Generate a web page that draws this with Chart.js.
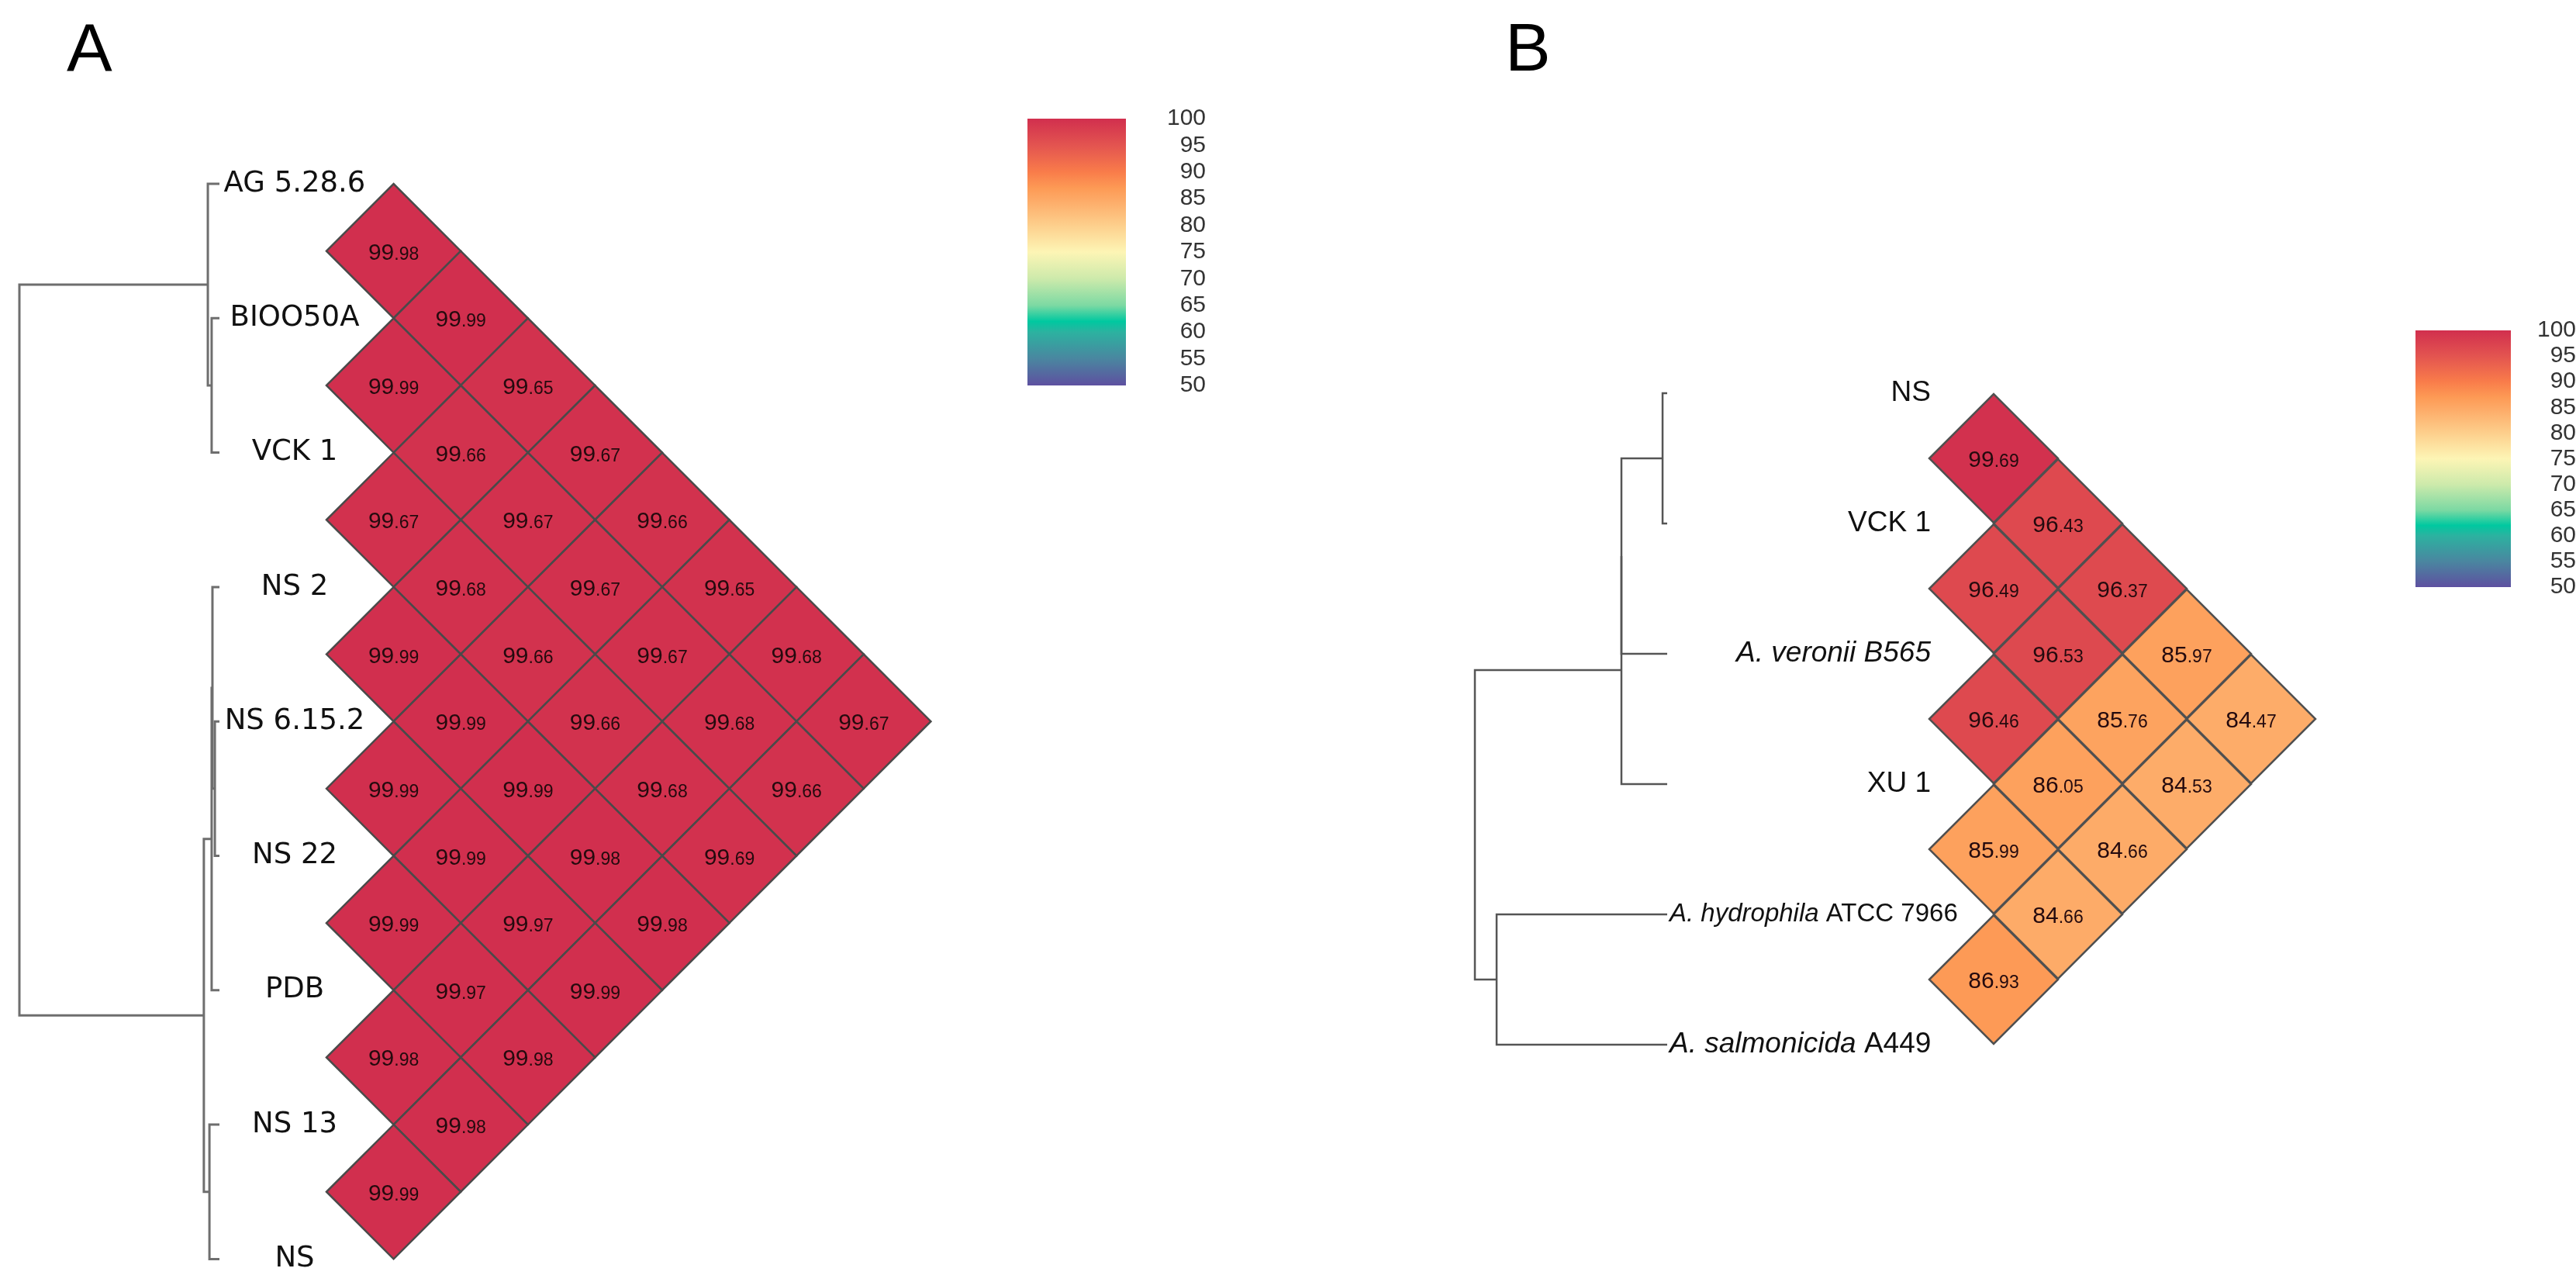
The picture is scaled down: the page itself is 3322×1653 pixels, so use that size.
<!DOCTYPE html>
<html>
<head>
<meta charset="utf-8">
<script src="https://cdn.jsdelivr.net/npm/chart.js@4.4.1/dist/chart.umd.min.js"></script>
<style>
  html, body { margin: 0; padding: 0; background: #fff; }
  body { width: 3322px; height: 1653px; position: relative; overflow: hidden; }
  canvas { position: absolute; }
  .tag { position: absolute; font-family: "Liberation Sans", Arial, sans-serif; font-size: 88px; line-height: 1; color: #000; }
</style>
</head>
<body>
<div class="tag" style="left:86px;top:18px">A</div>
<div class="tag" style="left:1941px;top:17px">B</div>
<canvas id="heatA" width="1240" height="1653" style="left:0;top:0"></canvas>
<canvas id="barA" width="230" height="404" style="left:1325px;top:123px"></canvas>
<canvas id="heatB" width="1200" height="1653" style="left:1850px;top:0"></canvas>
<canvas id="barB" width="207" height="395" style="left:3115px;top:394px"></canvas>
<script>
// ---- panel A: taxa, pairwise ANI (row i holds pairs i/i+1, i/i+2 ...), tree merges [a, b, height]
var taxaA = ['AG 5.28.6', 'BIOO50A', 'VCK 1', 'NS 2', 'NS 6.15.2', 'NS 22', 'PDB', 'NS 13', 'NS'];
var aniA = [
  [99.98, 99.99, 99.65, 99.67, 99.66, 99.65, 99.68, 99.67],
  [99.99, 99.66, 99.67, 99.67, 99.67, 99.68, 99.66],
  [99.67, 99.68, 99.66, 99.66, 99.68, 99.69],
  [99.99, 99.99, 99.99, 99.98, 99.98],
  [99.99, 99.99, 99.97, 99.99],
  [99.99, 99.97, 99.98],
  [99.98, 99.98],
  [99.99]
];
var mergeA = [
  [1, 2, 0.039],
  [0, 9, 0.058],
  [4, 5, 0.023],
  [3, 11, 0.035],
  [12, 6, 0.039],
  [7, 8, 0.05],
  [13, 14, 0.078],
  [10, 15, 1]
];

// ---- panel B
var taxaB = ['NS', 'VCK 1', 'A. veronii B565', 'XU 1', 'A. hydrophila ATCC 7966', 'A. salmonicida A449'];
var italicB = ['', '', 'A. veronii B565', '', 'A. hydrophila', 'A. salmonicida'];
var aniB = [
  [99.69, 96.43, 96.37, 85.97, 84.47],
  [96.49, 96.53, 85.76, 84.53],
  [96.46, 86.05, 84.66],
  [85.99, 84.66],
  [86.93]
];
var mergeB = [
  [0, 1, 0.024],
  [6, 2, 0.238],
  [7, 3, 0.238],
  [4, 5, 0.887],
  [8, 9, 1]
];

// ---- colour scale
var colourTicks = [50, 55, 60, 65, 70, 75, 80, 85, 90, 95, 100];
var stopValues = [50, 55, 60, 62, 65, 70, 75, 80, 85, 87, 90, 95, 100];
var stopColours = ['#5e50a0', '#4a86a0', '#2cb2a0', '#00c8a0', '#7cd9a3', '#cdeaab', '#fdf5b5',
                   '#fdcf8c', '#fda865', '#fd9a55', '#f97c4a', '#e35450', '#d12f4e'];

function hexRgb(h) {
  return [parseInt(h.substr(1, 2), 16), parseInt(h.substr(3, 2), 16), parseInt(h.substr(5, 2), 16)];
}

function colourFor(v) {
  for (var i = 1; i < stopValues.length; i++) {
    if (v <= stopValues[i]) {
      var t = (v - stopValues[i - 1]) / (stopValues[i] - stopValues[i - 1]);
      var a = hexRgb(stopColours[i - 1]), b = hexRgb(stopColours[i]);
      return 'rgb(' + [0, 1, 2].map(function (k) { return Math.round(a[k] + (b[k] - a[k]) * t); }).join(',') + ')';
    }
  }
  return stopColours[stopColours.length - 1];
}

function cellsOf(ani) {
  var out = [];
  ani.forEach(function (row, i) {
    row.forEach(function (v, k) {
      var j = i + k + 1;
      out.push({ x: j - i, y: (i + j) / 2, v: v });
    });
  });
  return out;
}

// elbow paths of a dendrogram, leaves at y = index, height 0
function treeSegments(merges, n) {
  var pos = [], ht = [], segs = [];
  for (var i = 0; i < n; i++) { pos.push(i); ht.push(0); }
  merges.forEach(function (m) {
    var a = m[0], b = m[1], h = m[2];
    segs.push([{ x: ht[a], y: pos[a] }, { x: h, y: pos[a] }, { x: h, y: pos[b] }, { x: ht[b], y: pos[b] }]);
    pos.push((pos[a] + pos[b]) / 2);
    ht.push(h);
  });
  return segs;
}

// min/max so that value v0 lands on pixel p0 and v1 on p1
function axisFit(p0, v0, p1, v1, size, vertical) {
  var upp = (v1 - v0) / (p1 - p0);
  var a = v0 - p0 * upp, b = a + size * upp;
  return { min: Math.min(a, b), max: Math.max(a, b), reverse: vertical ? upp > 0 : upp < 0 };
}

function cellRadius(c) {
  var s = c.chart.scales.x;
  return s ? Math.abs(s.getPixelForValue(1) - s.getPixelForValue(0)) : 0;
}

var cellText = {
  id: 'cellText',
  afterDatasetsDraw: function (chart) {
    var ctx = chart.ctx, meta = chart.getDatasetMeta(0), data = chart.data.datasets[0].data;
    var big = '30px "Liberation Sans", Arial, sans-serif', small = '23px "Liberation Sans", Arial, sans-serif';
    ctx.save();
    ctx.fillStyle = '#240a0e';
    ctx.textBaseline = 'alphabetic';
    ctx.textAlign = 'left';
    meta.data.forEach(function (pt, k) {
      var parts = data[k].v.toFixed(2).split('.');
      var a = parts[0], b = '.' + parts[1];
      ctx.font = big; var wa = ctx.measureText(a).width;
      ctx.font = small; var wb = ctx.measureText(b).width;
      var x0 = pt.x - (wa + wb) / 2, base = pt.y + 11;
      ctx.font = big; ctx.fillText(a, x0, base);
      ctx.font = small; ctx.fillText(b, x0 + wa, base);
    });
    ctx.restore();
  }
};

var taxaText = {
  id: 'taxa',
  afterDatasetsDraw: function (chart, args, o) {
    var ctx = chart.ctx, y = chart.scales.y, xd = chart.scales.xd;
    ctx.save();
    ctx.fillStyle = '#111';
    ctx.textBaseline = 'middle';
    ctx.textAlign = 'left';
    o.names.forEach(function (name, i) {
      var size = o.sizes ? o.sizes[i] : o.size;
      var it = o.italic ? o.italic[i] : '';
      var rest = name.substr(it.length);
      var fi = 'italic ' + size + 'px ' + o.family, fn = size + 'px ' + o.family;
      ctx.font = fi; var wi = it ? ctx.measureText(it).width : 0;
      ctx.font = fn; var wr = ctx.measureText(rest).width;
      var w = wi + wr, x;
      if (o.align === 'center') x = o.at - w / 2;
      else x = Math.max(o.at - w, xd.getPixelForValue(0) + 3);
      var py = y.getPixelForValue(i);
      if (it) { ctx.font = fi; ctx.fillText(it, x, py); }
      ctx.font = fn; ctx.fillText(rest, x + wi, py);
    });
    ctx.restore();
  }
};

function heatPanel(id, g, taxa, ani, merges, labels) {
  var canvas = document.getElementById(id);
  var W = canvas.width, H = canvas.height;
  var datasets = [{
    data: cellsOf(ani),
    xAxisID: 'x', yAxisID: 'y',
    pointStyle: 'rectRot',
    pointRadius: cellRadius, pointHoverRadius: cellRadius,
    pointBackgroundColor: function (c) { return colourFor(c.raw.v); },
    pointHoverBackgroundColor: function (c) { return colourFor(c.raw.v); },
    pointBorderColor: g.edge, pointHoverBorderColor: g.edge,
    pointBorderWidth: 2.5, pointHoverBorderWidth: 2.5
  }];
  treeSegments(merges, taxa.length).forEach(function (seg) {
    datasets.push({
      data: seg, xAxisID: 'xd', yAxisID: 'y',
      showLine: true, pointRadius: 0, pointHoverRadius: 0,
      borderColor: g.line, borderWidth: g.lineW, fill: false, tension: 0
    });
  });
  return new Chart(canvas, {
    type: 'scatter',
    data: { datasets: datasets },
    plugins: [cellText, taxaText],
    options: {
      responsive: false, animation: false, devicePixelRatio: 1, events: [],
      layout: { padding: 0 },
      plugins: { legend: { display: false }, tooltip: { enabled: false }, taxa: labels },
      scales: {
        x: Object.assign({ type: 'linear', display: false }, axisFit(g.xL, 0, g.xL + g.hw, 1, W, false)),
        y: Object.assign({ type: 'linear', display: false }, axisFit(g.y0, 0, g.y0 + g.step, 1, H, true)),
        xd: Object.assign({ type: 'linear', axis: 'x', display: false }, axisFit(g.tip, 0, g.root, 1, W, false))
      }
    }
  });
}

var gradientFill = {
  id: 'gradientFill',
  beforeDatasetsDraw: function (chart) {
    var ctx = chart.ctx, a = chart.chartArea, y = chart.scales.y;
    var grad = ctx.createLinearGradient(0, y.getPixelForValue(50), 0, y.getPixelForValue(100));
    stopValues.forEach(function (v, i) { grad.addColorStop((v - 50) / 50, stopColours[i]); });
    ctx.save();
    ctx.fillStyle = grad;
    ctx.fillRect(a.left, a.top, a.width, a.height);
    ctx.restore();
  }
};

function colourBar(id, barW, pad, tickPad, fontSize) {
  var canvas = document.getElementById(id);
  return new Chart(canvas, {
    type: 'scatter',
    data: { datasets: [] },
    plugins: [gradientFill],
    options: {
      responsive: false, animation: false, devicePixelRatio: 1, events: [],
      layout: { padding: { top: pad, bottom: pad, left: 0, right: 0 } },
      plugins: { legend: { display: false }, tooltip: { enabled: false } },
      scales: {
        x: { type: 'linear', display: false },
        y: {
          type: 'linear', position: 'right', min: 50, max: 100,
          afterBuildTicks: function (s) { s.ticks = colourTicks.map(function (v) { return { value: v }; }); },
          afterFit: function (s) { s.width = canvas.width - barW; },
          grid: { display: false, drawTicks: false },
          border: { display: false },
          ticks: {
            autoSkip: false, crossAlign: 'far', padding: tickPad, color: '#333',
            font: { family: '"Liberation Sans", Arial, sans-serif', size: fontSize }
          }
        }
      }
    }
  });
}

heatPanel('heatA',
  { xL: 421, hw: 86.6, y0: 237, step: 173.3, tip: 283, root: 25, edge: '#4a4a4a', line: '#6e6e6e', lineW: 3 },
  taxaA, aniA, mergeA,
  { names: taxaA, align: 'center', at: 380, size: 37, family: '"DejaVu Sans", Verdana, sans-serif' });

heatPanel('heatB',
  { xL: 638, hw: 83, y0: 507, step: 168, tip: 300, root: 52, edge: '#505050', line: '#555555', lineW: 2.5 },
  taxaB, aniB, mergeB,
  { names: taxaB, italic: italicB, align: 'right', at: 640, sizes: [37, 37, 37, 37, 33, 37], family: '"Liberation Sans", Arial, sans-serif' });

colourBar('barA', 127, 30, 12, 30);
colourBar('barB', 123, 30, 14, 30);
</script>
</body>
</html>
